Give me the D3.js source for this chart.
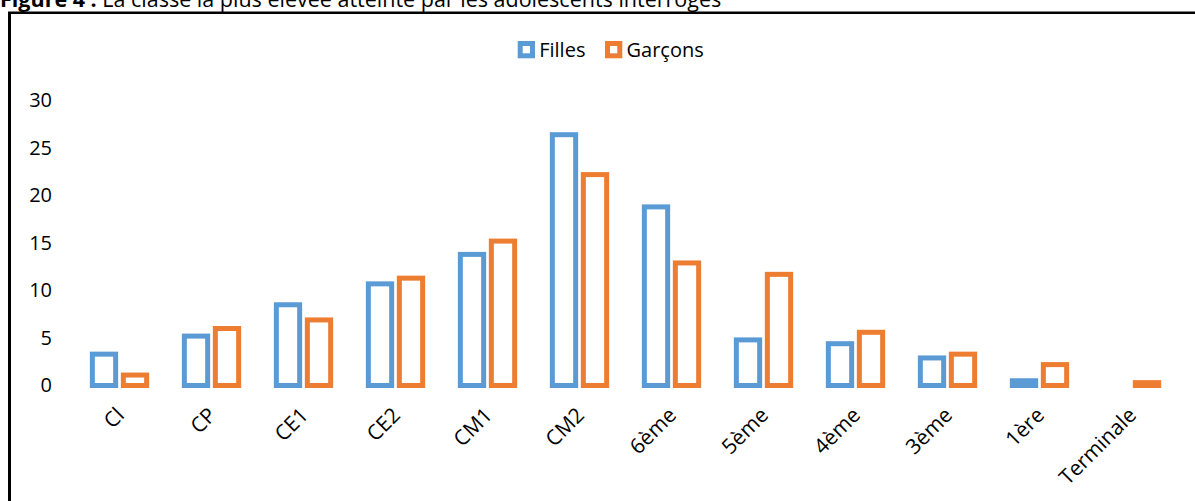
<!DOCTYPE html>
<html>
<head>
<meta charset="utf-8">
<script src="https://cdn.jsdelivr.net/npm/d3@7"></script>
<style>
  body { margin: 0; background: #fff; }
  text { font-family: "Open Sans", sans-serif; fill: #000; }
</style>
</head>
<body>
<svg id="chart" width="1195" height="501"></svg>
<script>
// classes (x axis)
var classes = ["Cl", "CP", "CE1", "CE2", "CM1", "CM2", "6ème", "5ème", "4ème", "3ème", "1ère", "Terminale"];
var seriesNames = ["Filles", "Garçons"];
var filles  = [3.3, 5.2, 8.5, 10.7, 13.8, 26.4, 18.8, 4.8, 4.4, 2.9, 0.5, 0];
var garcons = [1.1, 6.0, 6.9, 11.3, 15.2, 22.2, 12.9, 11.7, 5.6, 3.3, 2.2, 0.3];
var yTicks = [0, 5, 10, 15, 20, 25, 30];
var colors = { "Filles": "#5b9bd5", "Garçons": "#ed7d31" };

var svg = d3.select("#chart");

var margins = {
    left: 73.5,
    right: 17.5,
    top: 100.5,
    baseline: 385.5
};

// title, cut at the top like the scan
var title = svg.append("text").attr("x", 0).attr("y", 7).style("font-size", "21.5px");
title.append("tspan").style("font-weight", "bold").text("Figure 4 : ");
title.append("tspan").text("La classe la plus élevée atteinte par les adolescents interrogés");

// frame
svg.append("line").attr("x1", 9.5).attr("x2", 9.5).attr("y1", 12).attr("y2", 501)
    .attr("stroke", "#000").attr("stroke-width", 3);
svg.append("line").attr("x1", 8).attr("x2", 1195).attr("y1", 12.7).attr("y2", 12.7)
    .attr("stroke", "#000").attr("stroke-width", 2.5);

var x0 = d3.scaleBand().domain(classes).range([margins.left, 1195 - margins.right]);
var x1 = d3.scaleBand().domain(seriesNames).range([-31, 31]);
var y = d3.scaleLinear().domain([0, 30]).range([margins.baseline, margins.top]);

var rows = classes.map(function(c, i) {
    return { cls: c, values: [
        { key: "Filles", value: filles[i] },
        { key: "Garçons", value: garcons[i] }
    ] };
});

var barW = 23.3;

var groups = svg.selectAll(".grp")
    .data(rows)
    .enter().append("g")
    .attr("class", "grp")
    .attr("transform", function(d) { return "translate(" + (x0(d.cls) + x0.bandwidth() / 2) + ",0)"; });

groups.selectAll("rect")
    .data(function(d) { return d.values; })
    .enter().append("rect")
    .attr("x", function(d) { return x1(d.key) + (x1.bandwidth() - barW) / 2; })
    .attr("width", barW)
    .attr("y", function(d) { return y(d.value); })
    .attr("height", function(d) { return margins.baseline - y(d.value); })
    .attr("fill", "#fff")
    .attr("stroke", function(d) { return colors[d.key]; })
    .attr("stroke-width", 5);

// y axis, labels only
var yAxis = svg.append("g")
    .attr("transform", "translate(52,0)")
    .call(d3.axisLeft(y).tickValues(yTicks).tickSize(0).tickPadding(0));
yAxis.select(".domain").remove();
yAxis.selectAll("text").style("font-size", "20px").style("font-family", "Open Sans, sans-serif").attr("fill", "#000");

// x axis, rotated labels
var xAxis = svg.append("g")
    .attr("transform", "translate(0," + margins.baseline + ")")
    .call(d3.axisBottom(x0).tickSize(0));
xAxis.select(".domain").remove();
xAxis.selectAll("text")
    .attr("x", 0).attr("y", 0).attr("dy", 0)
    .attr("transform", "translate(6,31) rotate(-45)")
    .style("text-anchor", "end")
    .style("font-size", "21px")
    .style("font-family", "Open Sans, sans-serif")
    .attr("fill", "#000");

// legend
var legend = svg.append("g");
var legendX = [520.2, 607.5];
seriesNames.forEach(function(s, i) {
    legend.append("rect")
        .attr("x", legendX[i]).attr("y", 43.5)
        .attr("width", 12.3).attr("height", 12.3)
        .attr("fill", "#fff")
        .attr("stroke", colors[s]).attr("stroke-width", 5);
    legend.append("text")
        .attr("x", legendX[i] + 19).attr("y", 56.7)
        .style("font-size", "20px")
        .text(s);
});
</script>
</body>
</html>
